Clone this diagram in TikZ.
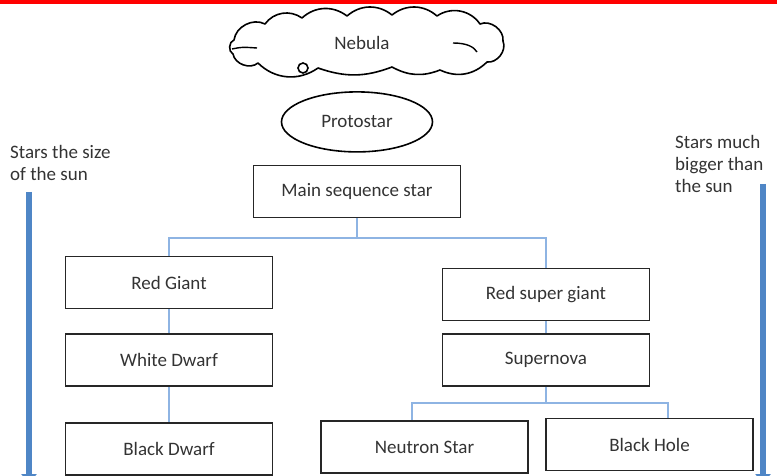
\documentclass[tikz,border=0pt]{standalone}
\usepackage{fontspec}
\setmainfont{Carlito}
\usepackage{tikz}
\usetikzlibrary{shapes.geometric}
\usetikzlibrary{arrows.meta}
\usepackage{xcolor}
\definecolor{textgray}{HTML}{333333}
\definecolor{linkblue}{HTML}{8EB4E3}
\definecolor{arrowblue}{HTML}{4F86C6}
\tikzset{
  stage/.style={draw=black!85,line width=1.6pt,minimum width=207pt,minimum height=52pt,
    text=textgray,font=\fontsize{19}{22}\selectfont},
  link/.style={draw=linkblue,line width=1.3pt},
  sizearrow/.style={draw=arrowblue,line width=6pt,-{Triangle[length=10pt,width=15pt]}},
  sidenote/.style={text=textgray,align=left,inner sep=0pt,
    font=\fontsize{19}{22}\selectfont}
}

\begin{document}
\begin{tikzpicture}[x=1pt,y=-1pt]
\useasboundingbox (0,0) rectangle (777,476);
\fill [red] (0,0) rectangle (777,4);

% nebula cloud
\draw [line width=1.6pt,line join=round]
  (234,40) to[bend left=55] (265,24) to[bend left=45] (302,18)
  to[bend left=40] (347,16) to[bend left=40] (392,15)
  to[bend left=40] (437,16) to[bend left=45] (480,24)
  to[bend left=60] (503,41) to[bend left=60] (487,62)
  to[bend left=35] (440,70) to[bend left=25] (392,67)
  to[bend left=20] (318,68) to[bend left=40] (258,63)
  to[bend left=60] (233,54) to[bend left=70] cycle;
\draw [line width=1.4pt] (232,49) .. controls (242,47) .. (257,48);
\draw [line width=1.4pt] (453,43) .. controls (467,43) and (474,47) .. (477,52);
\draw [line width=1.6pt] (303,68) circle (5);
\node [text=textgray,font=\fontsize{19}{22}\selectfont] (nebula) at (362,43) {Nebula};

\node [stage] (main) at (357,191.5) {Main sequence star};
\node [ellipse,draw,line width=1.6pt,minimum width=151pt,minimum height=60pt,
  text=textgray,font=\fontsize{19}{22}\selectfont,
  above=12pt,at=(main.north)] (protostar) {Protostar};

\node [stage] (redgiant) at (169,282.5) {Red Giant};
\node [stage,below=24pt,at=(redgiant.south)] (whitedwarf) {White Dwarf};
\node [stage,below=35pt,at=(whitedwarf.south)] (blackdwarf) {Black Dwarf};

\node [stage] (redsuper) at (546,294.5) {Red super giant};
\node [stage,below=12pt,at=(redsuper.south)] (supernova) {Supernova};
\node [stage] (neutron) at (424.5,447) {Neutron Star};
\node [stage] (blackhole) at (649.5,444.5) {Black Hole};

\coordinate (split1) at (357,238);
\coordinate (split2) at (546,403);
\draw [link] (main) -- (split1) -| (redgiant);
\draw [link] (split1) -| (redsuper);
\draw [link] (redgiant) -- (whitedwarf);
\draw [link] (whitedwarf) -- (blackdwarf);
\draw [link] (redsuper) -- (supernova);
\draw [link] (supernova) -- (split2) -| ([xshift=-12.5pt]neutron.north);
\draw [link] (split2) -| ([xshift=18.5pt]blackhole.north);

\node [sidenote,anchor=north west] (smallnote) at (10,145) {Stars the size\\of the sun};
\node [sidenote,anchor=north west] (bignote) at (675,135) {Stars much\\bigger than\\the sun};
\coordinate (smalltop) at (29,192);
\coordinate (smallend) at (29,484);
\coordinate (bigtop) at (763,184);
\coordinate (bigend) at (763,484);
\draw [sizearrow] (smalltop) -- (smallend);
\draw [sizearrow] (bigtop) -- (bigend);
\end{tikzpicture}
\end{document}
